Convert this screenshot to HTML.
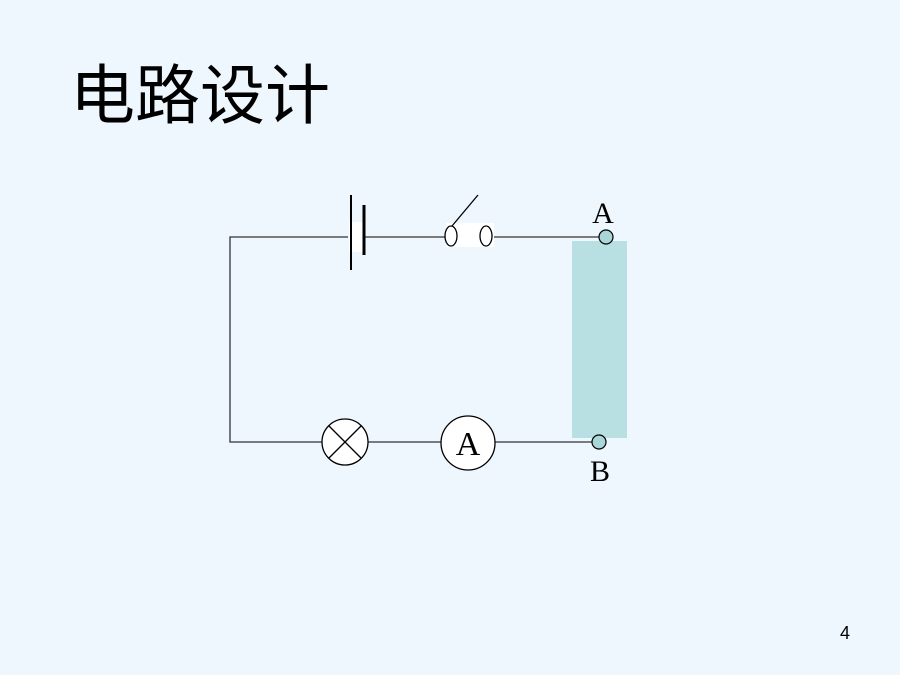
<!DOCTYPE html>
<html><head><meta charset="utf-8"><style>
html,body{margin:0;padding:0;background:#eef6fe;}
svg{display:block}
</style></head><body>
<svg width="900" height="675" viewBox="0 0 900 675" xmlns="http://www.w3.org/2000/svg">
<rect width="900" height="675" fill="#eef6fe"/>
<text x="70" y="118" font-family="'Noto Sans CJK SC',sans-serif" font-size="65" fill="#000">电路设计</text>
<g stroke="#333" stroke-width="1.3" fill="none">
<polyline points="348,237 230,237 230,442 322,442"/>
<line x1="364" y1="237" x2="445" y2="237"/>
<line x1="492" y1="237" x2="599" y2="237"/>
<line x1="368" y1="442" x2="441" y2="442"/>
<line x1="495" y1="442" x2="592" y2="442"/>
</g>
<rect x="349" y="222" width="14" height="30" fill="#fff"/>
<line x1="351" y1="195" x2="351" y2="270" stroke="#000" stroke-width="2"/>
<line x1="364" y1="205" x2="364" y2="255" stroke="#000" stroke-width="3"/>
<rect x="446" y="223" width="48" height="24" fill="#fff"/>
<ellipse cx="451" cy="236" rx="6" ry="10" fill="#fff" stroke="#000" stroke-width="1.3"/>
<ellipse cx="486" cy="236" rx="6" ry="10" fill="#fff" stroke="#000" stroke-width="1.3"/>
<line x1="452" y1="226" x2="478" y2="195" stroke="#000" stroke-width="1.3"/>
<rect x="572" y="241" width="55" height="197" fill="#b8e0e2"/>
<circle cx="606" cy="237" r="7" fill="#a9d6d8" stroke="#000" stroke-width="1.2"/>
<circle cx="599" cy="442" r="7" fill="#a9d6d8" stroke="#000" stroke-width="1.2"/>
<text x="603" y="223" text-anchor="middle" font-family="'Liberation Serif',serif" font-size="30">A</text>
<text x="600" y="481" text-anchor="middle" font-family="'Liberation Serif',serif" font-size="30">B</text>
<circle cx="345" cy="442" r="23" fill="#fff" stroke="#000" stroke-width="1.3"/>
<line x1="329" y1="426" x2="361" y2="458" stroke="#000" stroke-width="1.3"/>
<line x1="361" y1="426" x2="329" y2="458" stroke="#000" stroke-width="1.3"/>
<circle cx="468" cy="443" r="27" fill="#fff" stroke="#000" stroke-width="1.3"/>
<text x="468" y="455" text-anchor="middle" font-family="'Liberation Serif',serif" font-size="34">A</text>
<text x="840" y="639" font-family="'Liberation Sans',sans-serif" font-size="18">4</text>
</svg>
</body></html>
